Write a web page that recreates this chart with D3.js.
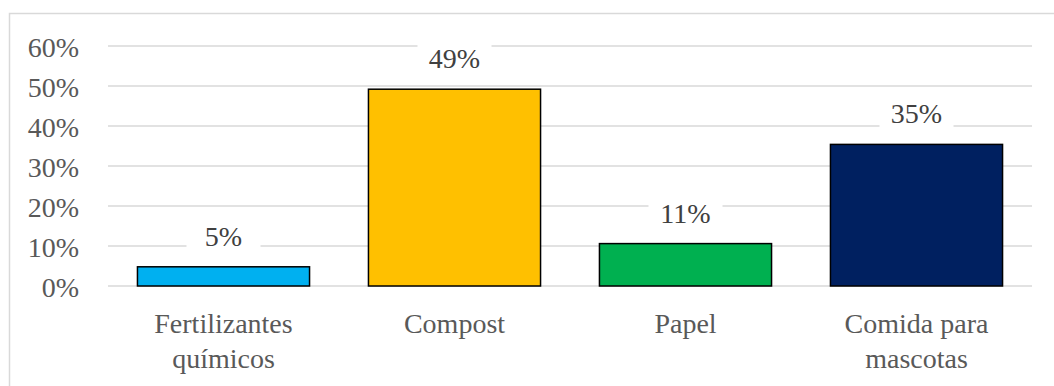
<!DOCTYPE html>
<html>
<head>
<meta charset="utf-8">
<script src="https://cdn.jsdelivr.net/npm/d3@7"></script>
<style>
  body { margin: 0; background: #fff; }
  #chart { position: relative; width: 1054px; height: 386px; overflow: hidden; }
  svg { display: block; position: absolute; left: 0; top: 0; }
  .lbl {
    position: absolute;
    font-family: 'Liberation Serif';
    font-size: 28px;
    line-height: 28px;
    white-space: nowrap;
    color: #595959;
  }
</style>
</head>
<body>
<div style="font-family:'Liberation Serif';font-size:28px;position:absolute;left:-2000px;top:0">Fertilizantes químicos Compost Papel Comida para mascotas 0123456789%</div>
<div id="chart"></div>
<script>
const categories = ["Fertilizantes químicos", "Compost", "Papel", "Comida para mascotas"];
const labelLines = [["Fertilizantes", "químicos"], ["Compost"], ["Papel"], ["Comida para", "mascotas"]];
const values = [0.048, 0.492, 0.106, 0.354];
const colors = ["#00B0F0", "#FFC000", "#00B050", "#002060"];
const yTicks = [0, 0.1, 0.2, 0.3, 0.4, 0.5, 0.6];

const width = 1054;
const height = 386;
const margin = { top: 46, right: 22, bottom: 100, left: 108 };

const root = d3.select("#chart");
const svg = root
  .append("svg")
  .attr("width", width)
  .attr("height", height);

// chart area border (only top and left show in the crop)
svg.append("rect")
  .attr("x", 9.5)
  .attr("y", 13.5)
  .attr("width", width + 20)
  .attr("height", height + 20)
  .attr("fill", "none")
  .attr("stroke", "#d9d9d9")
  .attr("stroke-width", 1.5);

const x = d3.scaleBand()
  .domain(categories)
  .range([margin.left, width - margin.right])
  .paddingInner(0.255)
  .paddingOuter(0.1275);

const y = d3.scaleLinear()
  .domain([0, 0.6])
  .range([height - margin.bottom, margin.top]);

const pct = d3.format(".0%");

// gridlines
svg.append("g")
  .selectAll("line")
  .data(yTicks)
  .join("line")
  .attr("x1", margin.left)
  .attr("x2", width - margin.right)
  .attr("y1", (d) => y(d))
  .attr("y2", (d) => y(d))
  .attr("stroke", "#d9d9d9")
  .attr("stroke-width", 1.5);

// bars
svg.append("g")
  .selectAll("rect")
  .data(values)
  .join("rect")
  .attr("x", (d, i) => x(categories[i]))
  .attr("y", (d) => y(d))
  .attr("width", x.bandwidth())
  .attr("height", (d) => y(0) - y(d))
  .attr("fill", (d, i) => colors[i])
  .attr("stroke", "#000")
  .attr("stroke-width", 1.5);

// white boxes behind data labels (break the gridlines)
svg.append("g")
  .selectAll("rect")
  .data(values)
  .join("rect")
  .attr("x", (d, i) => x(categories[i]) + x.bandwidth() / 2 - 37)
  .attr("y", (d) => y(d) - 30 - 16)
  .attr("width", 74)
  .attr("height", 32)
  .attr("fill", "#fff");

// labels as html text
root.selectAll("div.ytick")
  .data(yTicks)
  .join("div")
  .attr("class", "lbl ytick")
  .style("left", "0px")
  .style("width", "79px")
  .style("text-align", "right")
  .style("top", (d) => `${y(d) + 2 - 14}px`)
  .text((d) => pct(d));

root.selectAll("div.dlabel")
  .data(values)
  .join("div")
  .attr("class", "lbl dlabel")
  .style("left", (d, i) => `${x(categories[i]) + x.bandwidth() / 2 - 50}px`)
  .style("width", "100px")
  .style("text-align", "center")
  .style("color", "#404040")
  .style("top", (d) => `${y(d) - 30 - 14}px`)
  .text((d) => pct(d));

root.selectAll("div.xlabel")
  .data(categories)
  .join("div")
  .attr("class", "lbl xlabel")
  .style("left", (d) => `${x(d) + x.bandwidth() / 2 - 115}px`)
  .style("width", "230px")
  .style("text-align", "center")
  .style("line-height", "35px")
  .style("top", `${323 - 17.5}px`)
  .html((d, i) => labelLines[i].join("<br>"));
</script>
</body>
</html>
